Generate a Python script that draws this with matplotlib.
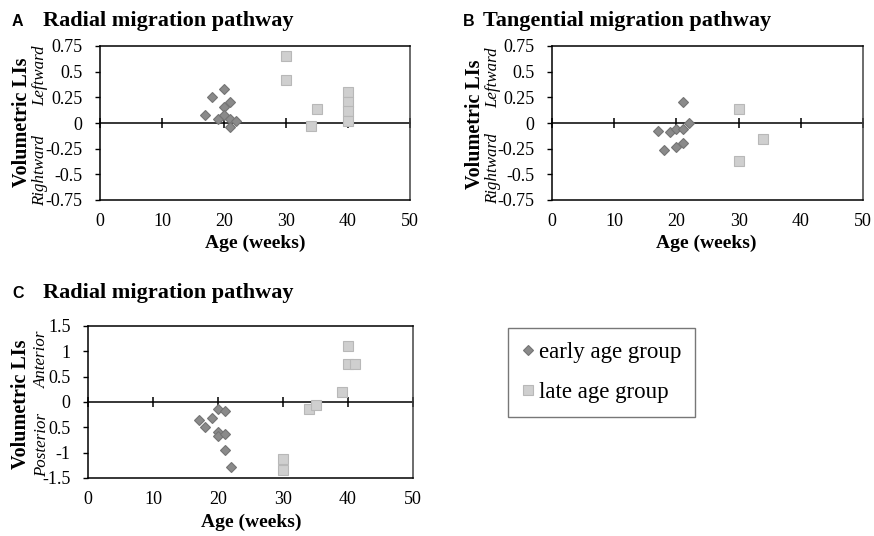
import matplotlib
matplotlib.use("Agg")
import matplotlib.pyplot as plt
from matplotlib.lines import Line2D

# ---------------- data ----------------
age_ticks = [0, 10, 20, 30, 40, 50]

A_early_x = [17, 18, 20, 19, 20, 21, 20, 21, 21, 22]
A_early_y = [0.08, 0.25, 0.33, 0.04, 0.16, 0.20, 0.08, 0.04, -0.035, 0.015]
A_late_x = [30, 30, 35, 34, 40, 40, 40, 40]
A_late_y = [0.65, 0.42, 0.14, -0.03, 0.30, 0.20, 0.12, 0.02]

B_early_x = [17, 18, 19, 20, 21, 21, 22, 20, 21]
B_early_y = [-0.075, -0.265, -0.085, -0.056, -0.056, 0.20, 0.0, -0.237, -0.19]
B_late_x = [30, 30, 34]
B_late_y = [0.14, -0.37, -0.155]

C_early_x = [17, 18, 19, 20, 21, 20, 20, 21, 21, 22]
C_early_y = [-0.355, -0.50, -0.32, -0.14, -0.17, -0.60, -0.68, -0.63, -0.94, -1.28]
C_late_x = [30, 30, 34, 35, 39, 40, 40, 41]
C_late_y = [-1.12, -1.34, -0.13, -0.05, 0.19, 1.10, 0.75, 0.75]

AB_yticks = [-0.75, -0.5, -0.25, 0, 0.25, 0.5, 0.75]
AB_yticklabels = ["-0.75", "-0.5", "-0.25", "0", "0.25", "0.5", "0.75"]
C_yticks = [-1.5, -1, -0.5, 0, 0.5, 1, 1.5]
C_yticklabels = ["-1.5", "-1", "0.5", "0", "0.5", "1", "1.5"]

# ---------------- style ----------------
W, H = 874, 536
SERIF = "Liberation Serif"
SANS = "Liberation Sans"
EARLY_FACE, EARLY_EDGE = "#8a8a8a", "#747474"
LATE_FACE, LATE_EDGE = "#cfcfcf", "#b8b8b8"

fig = plt.figure(figsize=(W / 100, H / 100), dpi=100)


def fx(x):
    return x / W


def fy(y):
    return 1 - y / H


def make_axes(left, top, right, bottom, ylim, yticks, yticklabels,
              ex, ey, lx, ly):
    ax = fig.add_axes([fx(left), fy(bottom), (right - left) / W, (bottom - top) / H])
    ax.set_xlim(0, 50)
    ax.set_ylim(*ylim)
    for s in ax.spines.values():
        s.set_linewidth(1.1)
        s.set_color("black")
    ax.spines["right"].set_color("#444444")
    ax.set_xticks(age_ticks)
    ax.set_xticklabels([str(t) for t in age_ticks], fontfamily=SERIF, fontsize=13)
    ax.tick_params(axis="x", length=0, pad=9.5)
    ax.set_yticks(yticks)
    ax.set_yticklabels(yticklabels, fontfamily=SERIF, fontsize=13)
    ax.tick_params(axis="y", direction="out", length=3.5, width=1, pad=9)
    # zero axis line with crossing ticks
    sec = ax.secondary_xaxis(0, transform=ax.transData)
    sec.set_xticks(age_ticks)
    sec.tick_params(axis="x", direction="inout", length=7.5, width=1.1,
                    labelbottom=False, labeltop=False)
    sec.spines["bottom"].set_linewidth(1.1)
    ax.plot(lx, ly, ls="none", marker="s", ms=7.8, mfc=LATE_FACE,
            mec=LATE_EDGE, mew=0.8, zorder=3)
    ax.plot(ex, ey, ls="none", marker="D", ms=5.6, mfc=EARLY_FACE,
            mec=EARLY_EDGE, mew=0.8, zorder=4)
    return ax


make_axes(100, 46, 410, 200, (-0.75, 0.75), AB_yticks, AB_yticklabels,
          A_early_x, A_early_y, A_late_x, A_late_y)
make_axes(552, 46, 863, 200, (-0.75, 0.75), AB_yticks, AB_yticklabels,
          B_early_x, B_early_y, B_late_x, B_late_y)
make_axes(88, 326, 413, 478, (-1.5, 1.5), C_yticks, C_yticklabels,
          C_early_x, C_early_y, C_late_x, C_late_y)

# ---------------- titles ----------------
def title(letter, lx, text, tx, yc):
    fig.text(fx(lx), fy(yc), letter, fontfamily=SANS, fontweight="bold",
             fontsize=11.5, ha="left", va="center")
    fig.text(fx(tx), fy(yc), text, fontfamily=SERIF, fontweight="bold",
             fontsize=16, ha="left", va="center")


title("A", 12, "Radial migration pathway", 43, 21)
title("B", 463, "Tangential migration pathway", 483, 21)
title("C", 12, "Radial migration pathway", 43, 293)

# ---------------- axis labels ----------------
def xlab(xc, yc):
    fig.text(fx(xc), fy(yc), "Age (weeks)", fontfamily=SERIF, fontweight="bold",
             fontsize=14, ha="center", va="center")


xlab(255, 243)
xlab(706, 243)
xlab(251, 522)


def ylab(x1, yc, x2, top_word, ytop, bot_word, ybot):
    fig.text(fx(x1), fy(yc), "Volumetric LIs", fontfamily=SERIF, fontweight="bold",
             fontsize=14.5, rotation=90, ha="center", va="center")
    fig.text(fx(x2), fy(ytop), top_word, fontfamily=SERIF, fontstyle="italic",
             fontsize=12.2, rotation=90, ha="center", va="center")
    fig.text(fx(x2), fy(ybot), bot_word, fontfamily=SERIF, fontstyle="italic",
             fontsize=12.2, rotation=90, ha="center", va="center")


ylab(22, 122, 40, "Leftward", 76, "Rightward", 171)
ylab(475, 124, 493, "Leftward", 78, "Rightward", 169)
ylab(21, 404, 42, "Anterior", 359, "Posterior", 445)

# ---------------- legend ----------------
handles = [
    Line2D([], [], ls="none", marker="D", ms=4.8, mfc=EARLY_FACE, mec=EARLY_EDGE, mew=0.8),
    Line2D([], [], ls="none", marker="s", ms=6.8, mfc=LATE_FACE, mec=LATE_EDGE, mew=0.8),
]
leg = fig.legend(handles, ["early age group", "late age group"],
                 loc="upper left", bbox_to_anchor=(fx(508), fy(328)),
                 borderaxespad=0, prop={"family": SERIF, "size": 16.5},
                 frameon=True, fancybox=False, handlelength=0.55,
                 handletextpad=0.2, labelspacing=0.85, borderpad=0.6)
leg.get_frame().set_edgecolor("#555555")
leg.get_frame().set_linewidth(1.0)

fig.savefig("out.png", dpi=100)
